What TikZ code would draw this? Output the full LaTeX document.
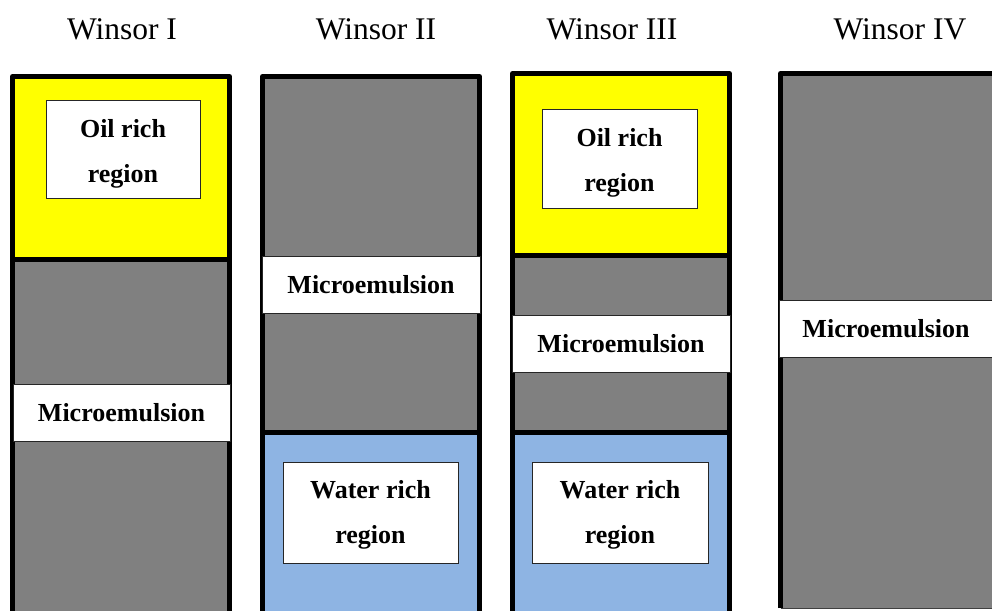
\documentclass[tikz,border=0pt]{standalone}
\usepackage{fontspec}
\setmainfont{Liberation Serif}
\definecolor{oilY}{HTML}{FFFF00}
\definecolor{midG}{HTML}{808080}
\definecolor{watB}{HTML}{8EB4E3}
\begin{document}
\begin{tikzpicture}[x=1pt,y=-1pt,
  frame/.style={line width=5pt, line join=round},
  sepline/.style={line width=5pt},
  lbl/.style={draw=black!85, line width=1pt, fill=white, inner sep=0pt,
    font=\fontsize{26}{45}\selectfont\bfseries, align=center},
  lbltext/.style={inner sep=0pt, font=\fontsize{26}{45}\selectfont\bfseries, align=center},
  title/.style={font=\fontsize{31.5}{36}\selectfont, anchor=base}]
\useasboundingbox (0,0) rectangle (992,610);
\clip (0,0) rectangle (992,610);
% titles
\node[title] (t1) at (122,40) {Winsor I};
\node[title] (t2) at (376,40) {Winsor II};
\node[title] (t3) at (612,40) {Winsor III};
\node[title] (t4) at (900,40) {Winsor IV};
% column 1
\fill[oilY] (12.5,76.5) rectangle (229.5,259);
\fill[midG] (12.5,259) rectangle (229.5,620);
\draw[sepline] (12.5,259) -- (229.5,259);
\draw[frame] (12.5,620) -- (12.5,76.5) -- (229.5,76.5) -- (229.5,620);
\node[lbl, minimum width=154pt, minimum height=98pt] (oil1) at (123,149) {};
\node[lbltext, yshift=-4.5pt] (oil1t) at (oil1.center) {Oil rich\\region};
\node[lbl, minimum width=217pt, minimum height=57pt] (me1) at (121.5,412.5) {Microemulsion};
% column 2
\fill[midG] (262.5,76.5) rectangle (479.5,432.5);
\fill[watB] (262.5,432.5) rectangle (479.5,620);
\draw[sepline] (262.5,432.5) -- (479.5,432.5);
\draw[frame] (262.5,620) -- (262.5,76.5) -- (479.5,76.5) -- (479.5,620);
\node[lbl, minimum width=218pt, minimum height=57pt] (me2) at (371,284.5) {Microemulsion};
\node[lbl, minimum width=175pt, minimum height=101pt] (wat2) at (370.5,512.5) {};
\node[lbltext, yshift=-2.5pt] (wat2t) at (wat2.center) {Water rich\\region};
% column 3
\fill[oilY] (512.5,73.5) rectangle (729.5,255);
\fill[midG] (512.5,255) rectangle (729.5,432.5);
\fill[watB] (512.5,432.5) rectangle (729.5,620);
\draw[sepline] (512.5,255) -- (729.5,255);
\draw[sepline] (512.5,432.5) -- (729.5,432.5);
\draw[frame] (512.5,620) -- (512.5,73.5) -- (729.5,73.5) -- (729.5,620);
\node[lbl, minimum width=155pt, minimum height=99pt] (oil3) at (619.5,158.5) {};
\node[lbltext, yshift=-4pt] (oil3t) at (oil3.center) {Oil rich\\region};
\node[lbl, minimum width=218pt, minimum height=57pt] (me3) at (621,343.5) {Microemulsion};
\node[lbl, minimum width=176pt, minimum height=101pt] (wat3) at (620,512.5) {};
\node[lbltext, yshift=-2.5pt] (wat3t) at (wat3.center) {Water rich\\region};
% column 4
\fill[midG] (780.5,73.5) rectangle (1000,608);
\draw[line width=1pt, black!75] (780.5,608) -- (1000,608);
\draw[frame] (780.5,608) -- (780.5,73.5) -- (1000,73.5);
\node[lbl, minimum width=214pt, minimum height=57pt] (me4) at (886,328.5) {Microemulsion};
\end{tikzpicture}
\end{document}
